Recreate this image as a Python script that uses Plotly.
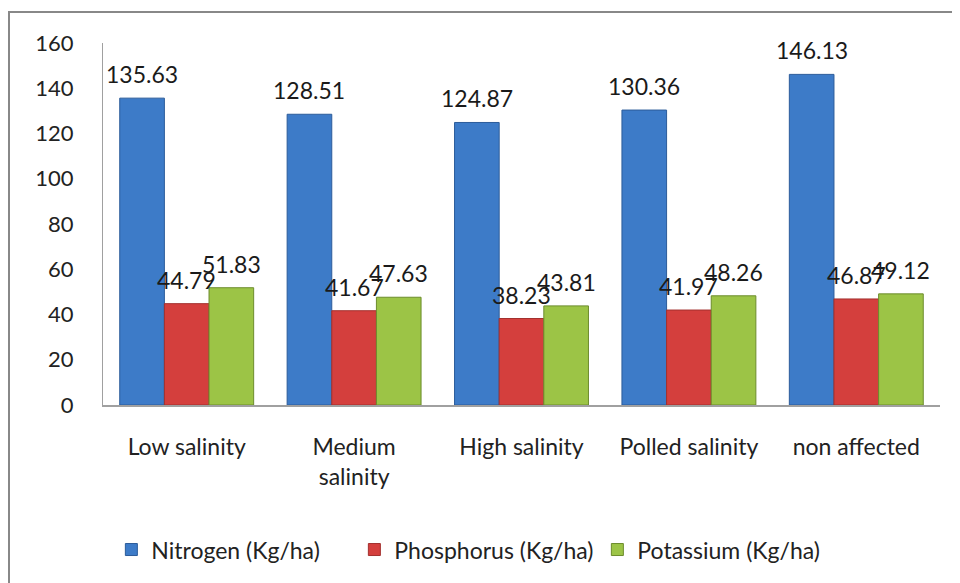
import plotly.graph_objects as go

categories = ["Low salinity", "Medium<br>salinity", "High salinity", "Polled salinity", "non affected"]
nitrogen = [135.63, 128.51, 124.87, 130.36, 146.13]
phosphorus = [44.79, 41.67, 38.23, 41.97, 46.87]
potassium = [51.83, 47.63, 43.81, 48.26, 49.12]
series_names = ["Nitrogen (Kg/ha)", "Phosphorus (Kg/ha)", "Potassium (Kg/ha)"]
y_ticks = [0, 20, 40, 60, 80, 100, 120, 140, 160]

FONT = "Lato, Carlito, 'Liberation Sans', sans-serif"
fills = ["#3d7bc8", "#d43f3d", "#9cc446"]
lines = ["#2c5c9a", "#a3302e", "#6c8c2c"]

W, H = 952, 575
L, R, T, B = 95, 20, 35, 178
plot_w = W - L - R
bar_px = plot_w / len(categories) * 0.8 / 3

fig = go.Figure()
all_vals = [nitrogen, phosphorus, potassium]
for i, (name, vals, fc, lc) in enumerate(zip(series_names, all_vals, fills, lines)):
    fig.add_trace(go.Bar(
        x=categories, y=vals, name=name,
        marker=dict(color=fc, line=dict(color=lc, width=1)),
        cliponaxis=False,
    ))
    for c, v in zip(categories, vals):
        fig.add_annotation(x=c, y=v, xref="x", yref="y", text=f"{v:.2f}",
                           showarrow=False, yanchor="bottom", xanchor="center",
                           xshift=(i - 1) * bar_px, yshift=8,
                           font=dict(family=FONT, size=23, color="#1a1a1a"))

fig.update_layout(
    width=W, height=H,
    margin=dict(l=L, r=R, t=T, b=B),
    paper_bgcolor="white", plot_bgcolor="white",
    barmode="group", bargap=0.2, bargroupgap=0,
    font=dict(family=FONT, size=23, color="#222"),
    showlegend=True,
    legend=dict(orientation="h", x=0.01, xanchor="left", y=-0.34, yanchor="top",
                font=dict(family=FONT, size=23, color="#222"),
                itemwidth=30, traceorder="normal",
                entrywidth=198, entrywidthmode="pixels"),
)
fig.update_xaxes(showline=True, linecolor="#a0a0a0", linewidth=1.5, ticks="",
                 tickfont=dict(family=FONT, size=23, color="#222"), ticklabelstandoff=21)
fig.update_yaxes(range=[0, 160], tickvals=y_ticks, showgrid=False, showline=True,
                 linecolor="#a0a0a0", linewidth=1, ticks="", zeroline=False,
                 tickfont=dict(family=FONT, size=22, color="#222"), ticklabelstandoff=24)

fig.add_shape(type="rect", xref="paper", yref="paper",
              x0=(1 - L) / plot_w, x1=(W + 30 - L) / plot_w,
              y0=-0.6, y1=(H - B - 4) / (H - T - B),
              line=dict(color="#888888", width=2), fillcolor="rgba(0,0,0,0)", layer="below")

fig.write_html("out.html")
